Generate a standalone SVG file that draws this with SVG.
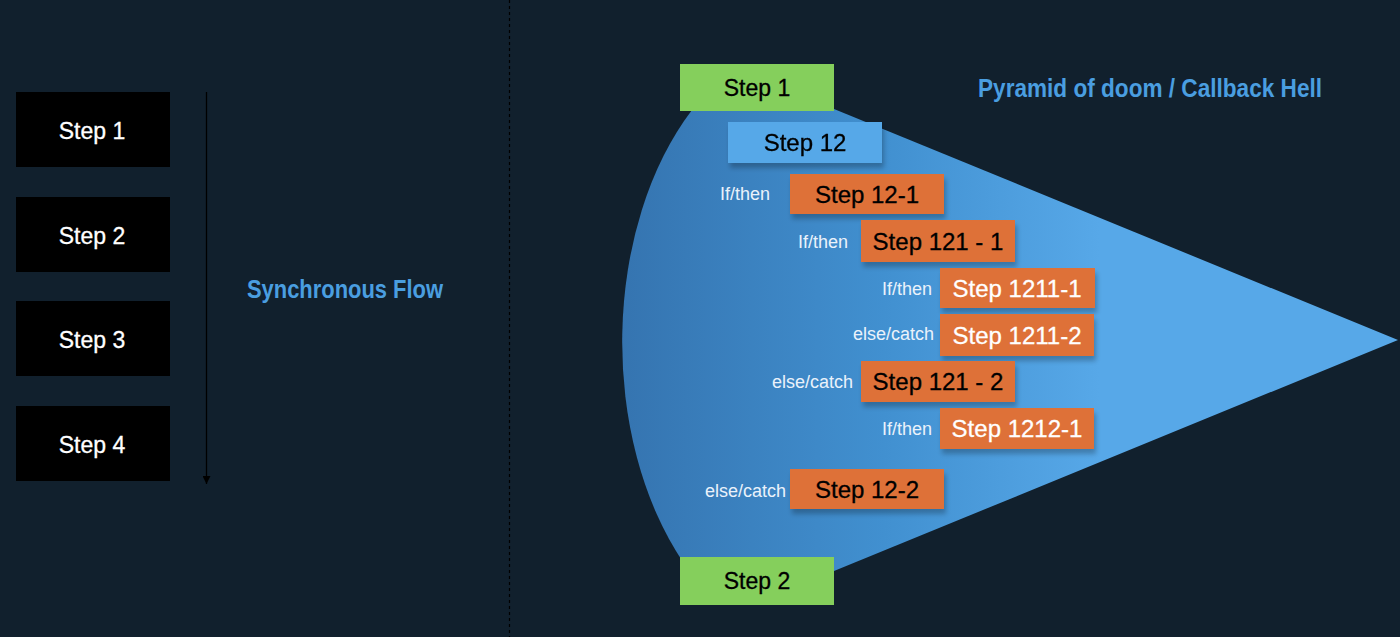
<svg xmlns="http://www.w3.org/2000/svg" width="1400" height="637" viewBox="0 0 1400 637">
<defs>
<linearGradient id="cone" x1="620" y1="0" x2="1100" y2="0" gradientUnits="userSpaceOnUse">
<stop offset="0" stop-color="#3574b0"/>
<stop offset="0.55" stop-color="#4190d0"/>
<stop offset="1" stop-color="#57a8e8"/>
</linearGradient>
<filter id="sh" x="-10%" y="-20%" width="130%" height="160%">
<feGaussianBlur in="SourceAlpha" stdDeviation="2.5"/>
<feOffset dx="2" dy="5"/>
<feComponentTransfer><feFuncA type="linear" slope="0.25"/></feComponentTransfer>
<feMerge><feMergeNode/><feMergeNode in="SourceGraphic"/></feMerge>
</filter>
<marker id="ah" viewBox="0 0 8 8" refX="8" refY="4" markerWidth="8" markerHeight="8" markerUnits="userSpaceOnUse" orient="auto">
<path d="M0 0 L8 4 L0 8 Z" fill="#000"/>
</marker>
</defs>
<style>
.lbox{fill:#000}
.wt{font-family:"Liberation Sans",Arial,sans-serif;fill:#fff;stroke:#fff;stroke-width:0.3;text-anchor:middle}
.bt{font-family:"Liberation Sans",Arial,sans-serif;fill:#000;stroke:#000;stroke-width:0.3;text-anchor:middle}
.green{fill:#85cf5c}
.lblue{fill:#56a8e8}
.orange{fill:#de7137}
.lab{font-family:"Liberation Sans",Arial,sans-serif;fill:#eaf2fb;font-size:18px;text-anchor:end}
.title{font-family:"Liberation Sans",Arial,sans-serif;font-weight:bold;fill:#4a9ee0;font-size:25px}
</style>
<rect width="1400" height="637" fill="#11202d"/>
<line x1="509.5" y1="0" x2="509.5" y2="637" stroke="#000" stroke-width="1.2" stroke-dasharray="3 3"/>

<g id="connectors">
<line x1="206.5" y1="92" x2="206.5" y2="484" stroke="#000" stroke-width="1.3" marker-end="url(#ah)"/>
</g>

<g id="sync-step1"><rect class="lbox" x="16" y="92" width="154" height="75"/><text class="wt" x="92" y="139" font-size="23">Step 1</text></g>
<g id="sync-step2"><rect class="lbox" x="16" y="197" width="154" height="75"/><text class="wt" x="92" y="244" font-size="23">Step 2</text></g>
<g id="sync-step3"><rect class="lbox" x="16" y="301" width="154" height="75"/><text class="wt" x="92" y="348" font-size="23">Step 3</text></g>
<g id="sync-step4"><rect class="lbox" x="16" y="406" width="154" height="75"/><text class="wt" x="92" y="453" font-size="23">Step 4</text></g>

<text id="sync-title" class="title" x="247" y="298" textLength="196" lengthAdjust="spacingAndGlyphs">Synchronous Flow</text>
<text id="pyramid-title" class="title" x="978" y="97" textLength="344" lengthAdjust="spacingAndGlyphs">Pyramid of doom / Callback Hell</text>

<path id="cone" d="M1398 340 L834 109 L692 110 A200 306 0 0 0 683 562 L834 571 Z" fill="url(#cone)"/>

<g id="step1"><rect class="green" x="680" y="64" width="154" height="47"/><text class="bt" x="757" y="96" font-size="23">Step 1</text></g>
<g id="step2"><rect class="green" x="680" y="557" width="154" height="48"/><text class="bt" x="757" y="589" font-size="23">Step 2</text></g>

<g id="step12" filter="url(#sh)"><rect class="lblue" x="728" y="122" width="154" height="41"/><text class="bt" x="805" y="151" font-size="24">Step 12</text></g>

<g id="step12-1"><g filter="url(#sh)"><rect class="orange" x="790" y="174" width="154" height="40"/></g><text class="bt" x="867" y="203" font-size="24">Step 12-1</text><text class="lab" x="770" y="200">If/then</text></g>

<g id="step121-1"><g filter="url(#sh)"><rect class="orange" x="861" y="220" width="154" height="42"/></g><text class="bt" x="938" y="250" font-size="24">Step 121 - 1</text><text class="lab" x="848" y="248">If/then</text></g>

<g id="step1211-1"><g filter="url(#sh)"><rect class="orange" x="940" y="268" width="155" height="40"/></g><text class="wt" x="1017" y="297" font-size="24">Step 1211-1</text><text class="lab" x="932" y="295">If/then</text></g>

<g id="step1211-2"><g filter="url(#sh)"><rect class="orange" x="940" y="314" width="154" height="42"/></g><text class="wt" x="1017" y="344" font-size="24">Step 1211-2</text><text class="lab" x="934" y="340">else/catch</text></g>

<g id="step121-2"><g filter="url(#sh)"><rect class="orange" x="861" y="361" width="154" height="41"/></g><text class="bt" x="938" y="390" font-size="24">Step 121 - 2</text><text class="lab" x="853" y="388">else/catch</text></g>

<g id="step1212-1"><g filter="url(#sh)"><rect class="orange" x="940" y="408" width="154" height="41"/></g><text class="wt" x="1017" y="437" font-size="24">Step 1212-1</text><text class="lab" x="932" y="435">If/then</text></g>

<g id="step12-2"><g filter="url(#sh)"><rect class="orange" x="790" y="469" width="154" height="40"/></g><text class="bt" x="867" y="498" font-size="24">Step 12-2</text><text class="lab" x="786" y="497">else/catch</text></g>
</svg>
